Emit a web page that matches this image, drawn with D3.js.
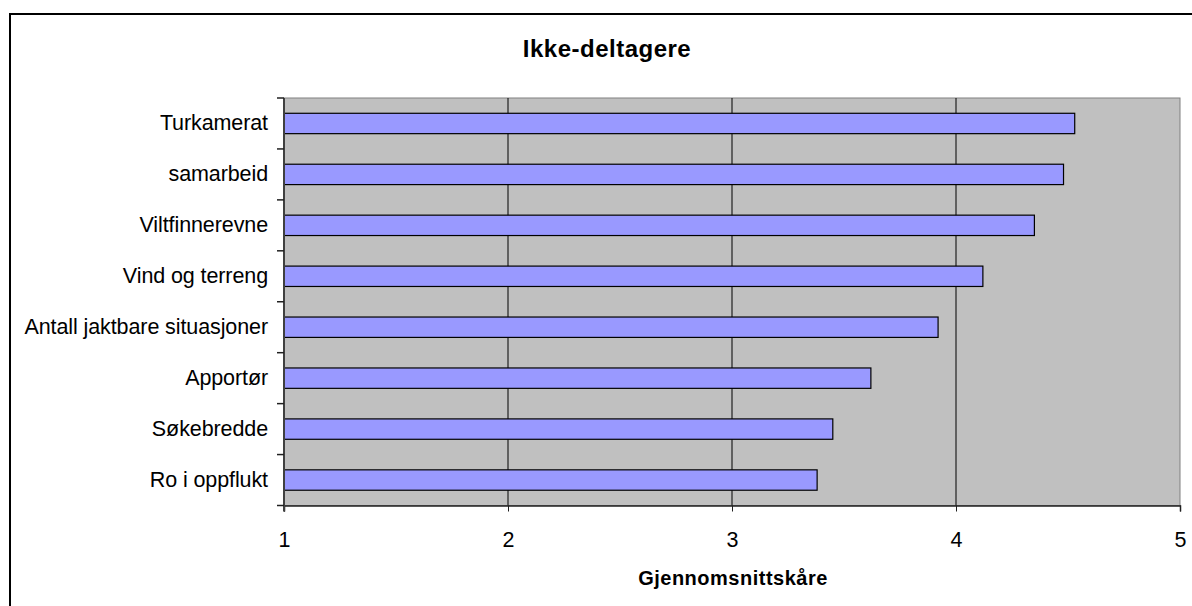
<!DOCTYPE html>
<html><head><meta charset="utf-8">
<script src="https://cdn.jsdelivr.net/npm/d3@7/dist/d3.min.js"></script>
<style>
html,body{margin:0;padding:0;background:#fff;}
svg{display:block;}
text{font-family:"Liberation Sans",Arial,sans-serif;fill:#000;}
</style></head>
<body>
<svg id="c" width="1192" height="606"></svg>
<script>
const title = "Ikke-deltagere";
const xTitle = "Gjennomsnittskåre";
const categories = ["Turkamerat","samarbeid","Viltfinnerevne","Vind og terreng","Antall jaktbare situasjoner","Apportør","Søkebredde","Ro i oppflukt"];
const values = [4.53, 4.48, 4.35, 4.12, 3.92, 3.62, 3.45, 3.38];
const xTicks = [1, 2, 3, 4, 5];

const svg = d3.select("#c");
const L = 284, R = 1180, T = 98, B = 505.5;

// outer chart border
svg.append("rect").attr("x", 10).attr("y", 14).attr("width", 1200).attr("height", 620)
  .attr("fill", "#fff").attr("stroke", "#000").attr("stroke-width", 2);

const x = d3.scaleLinear().domain([1, 5]).range([L, R]);
const y = d3.scaleBand().domain(categories).range([T, B]).paddingInner(0.6).paddingOuter(0.3);

// plot background
svg.append("rect").attr("x", L).attr("y", T).attr("width", R - L).attr("height", B - T)
  .attr("fill", "#c0c0c0").attr("stroke", "#808080").attr("stroke-width", 1);

// gridlines
svg.append("g").selectAll("line").data(xTicks.filter(d => d > 1 && d < 5)).join("line")
  .attr("x1", d => x(d)).attr("x2", d => x(d)).attr("y1", T).attr("y2", B)
  .attr("stroke", "#000").attr("stroke-width", 1);

// bars
svg.append("g").selectAll("rect").data(categories).join("rect")
  .attr("x", x(1)).attr("y", d => y(d))
  .attr("width", (d, i) => x(values[i]) - x(1))
  .attr("height", y.bandwidth())
  .attr("fill", "#9999ff").attr("stroke", "#000").attr("stroke-width", 1.2);

// x axis
const xAxis = d3.axisBottom(x).tickValues(xTicks).tickFormat(d3.format("d")).tickSize(6).tickPadding(20);
const gx = svg.append("g").attr("transform", `translate(0,${B})`).call(xAxis);
gx.select(".domain").attr("stroke", "#202020").attr("stroke-width", 1.5);
gx.selectAll(".tick line").attr("stroke", "#202020");
gx.selectAll(".tick text").attr("font-size", 21.5).attr("font-family", "Liberation Sans, Arial, sans-serif").attr("fill", "#000");

// y axis
const yAxis = d3.axisLeft(y).tickSize(0).tickPadding(16);
const gy = svg.append("g").attr("transform", `translate(${L},0)`).call(yAxis);
gy.select(".domain").attr("stroke", "#404040").attr("stroke-width", 2).attr("d", `M0,${T}V${B + 6}`);
gy.selectAll(".tick text").attr("font-size", 21.5).attr("font-family", "Liberation Sans, Arial, sans-serif").attr("fill", "#000").attr("letter-spacing", "-0.1");

// y tick marks at band boundaries
const bounds = d3.range(categories.length + 1).map(i => T + i * y.step());
svg.append("g").selectAll("line").data(bounds).join("line")
  .attr("x1", L - 7).attr("x2", L).attr("y1", d => d).attr("y2", d => d)
  .attr("stroke", "#202020").attr("stroke-width", 1.5);

// titles
svg.append("text").attr("x", 607).attr("y", 57).attr("text-anchor", "middle")
  .attr("font-size", 24).attr("font-weight", "bold").attr("letter-spacing", "0.5").text(title);
svg.append("text").attr("x", 733).attr("y", 585).attr("text-anchor", "middle")
  .attr("font-size", 20).attr("font-weight", "bold").attr("letter-spacing", "0.5").text(xTitle);
</script>
</body></html>
